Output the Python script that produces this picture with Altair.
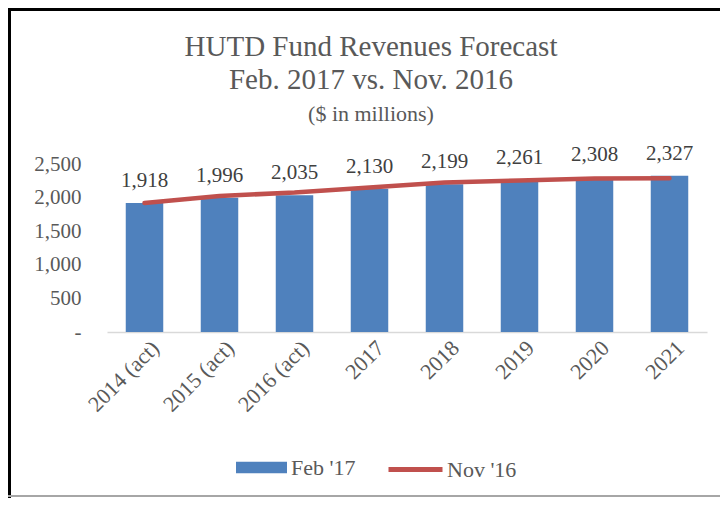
import altair as alt
import pandas as pd

# ---- data ----
categories = ["2014 (act)", "2015 (act)", "2016 (act)", "2017", "2018", "2019", "2020", "2021"]
feb17 = [1918, 1996, 2035, 2130, 2199, 2261, 2308, 2327]
nov16 = [1918, 2025, 2075, 2150, 2225, 2255, 2284, 2288]
y_ticks = [0, 500, 1000, 1500, 2000, 2500]
bar_series = "Feb '17"
line_series = "Nov '16"
title_lines = ["HUTD Fund Revenues Forecast", "Feb. 2017 vs. Nov. 2016"]
subtitle_text = "($ in millions)"

FONT = "Liberation Serif"
BLUE = "#4F81BD"
RED = "#C0504D"
GREY_TXT = "#595959"

df = pd.DataFrame({
    "year": categories,
    "feb": feb17,
    "nov": nov16,
    "bs": [bar_series] * len(categories),
    "ls": [line_series] * len(categories),
})

x_enc = alt.X(
    "year:N",
    sort=categories,
    scale=alt.Scale(paddingInner=0.5, paddingOuter=0.25),
    axis=alt.Axis(
        title=None, labelAngle=-45, labelAlign="right", labelBaseline="middle",
        labelPadding=12, labelOffset=11, ticks=False, tickSize=0,
        domainColor="#D9D9D9", domainWidth=1.5, labelFont=FONT,
        labelFontSize=22, labelColor=GREY_TXT, grid=False, labelOverlap=False,
    ),
)
y_scale = alt.Scale(domain=[0, 2500], nice=False)
y_axis = alt.Axis(
    title=None, values=y_ticks, grid=False, domain=False, ticks=False,
    tickSize=0, labelPadding=26, labelFont=FONT, labelFontSize=21,
    labelColor=GREY_TXT, labelOverlap=False,
    labelExpr="datum.value == 0 ? '-' : format(datum.value, ',')",
)

base = alt.Chart(df)

bars = base.mark_bar().encode(
    x=x_enc,
    y=alt.Y("feb:Q", scale=y_scale, axis=y_axis),
    color=alt.Color(
        "bs:N",
        scale=alt.Scale(domain=[bar_series], range=[BLUE]),
        legend=alt.Legend(
            orient="none", legendX=129, legendY=278, title=None,
            symbolType="M-1,-0.23L1,-0.23L1,0.23L-1,0.23Z", symbolSize=2601,
            symbolStrokeWidth=0, labelFont=FONT, labelFontSize=22,
            labelColor=GREY_TXT, labelOffset=4, padding=0,
        ),
    ),
)

line = base.mark_line(strokeWidth=4.5, strokeCap="round").encode(
    x=x_enc,
    y=alt.Y("nov:Q", scale=y_scale, axis=y_axis),
    stroke=alt.Stroke(
        "ls:N",
        scale=alt.Scale(domain=[line_series], range=[RED]),
        legend=alt.Legend(
            orient="none", legendX=279, legendY=276, title=None,
            symbolType="M-1,0L1,0", symbolSize=2916, symbolStrokeWidth=5,
            labelFont=FONT, labelFontSize=22, labelColor=GREY_TXT,
            labelOffset=2, padding=0,
        ),
    ),
)

labels = base.mark_text(
    font=FONT, fontSize=21, color="#404040", baseline="alphabetic", dy=-16
).encode(
    x=x_enc,
    y=alt.Y("feb:Q", scale=y_scale, axis=y_axis),
    text=alt.Text("feb:Q", format=","),
)

frame_df = pd.DataFrame({"k": [0]})
frame_top = alt.Chart(frame_df).mark_rule(color="#000000", strokeWidth=3).encode(
    x=alt.value(-99), x2=alt.value(613), y=alt.value(-154.5)
)
frame_left = alt.Chart(frame_df).mark_rule(color="#000000", strokeWidth=3).encode(
    x=alt.value(-97.5), y=alt.value(-156), y2=alt.value(334)
)
frame_bottom = alt.Chart(frame_df).mark_rule(color="#A6A6A6", strokeWidth=2).encode(
    x=alt.value(-99), x2=alt.value(613), y=alt.value(332)
)

chart = alt.layer(bars, line, labels, frame_top, frame_left, frame_bottom).properties(
    width=600,
    height=168,
    background="white",
    title=alt.Title(
        text=title_lines, subtitle=subtitle_text, font=FONT, fontSize=29,
        fontWeight="normal", color=GREY_TXT, lineHeight=33,
        subtitleFont=FONT, subtitleFontSize=22, subtitleColor=GREY_TXT,
        subtitlePadding=9, anchor="middle", frame="group", dx=-36, offset=0,
        dy=118,
    ),
    autosize=alt.AutoSizeParams(type="none"),
    padding={"left": 99, "top": 156, "right": 13, "bottom": 166},
).configure_view(strokeWidth=0, stroke="transparent")

chart.save("out.html", embed_options={"renderer": "svg", "actions": False})
